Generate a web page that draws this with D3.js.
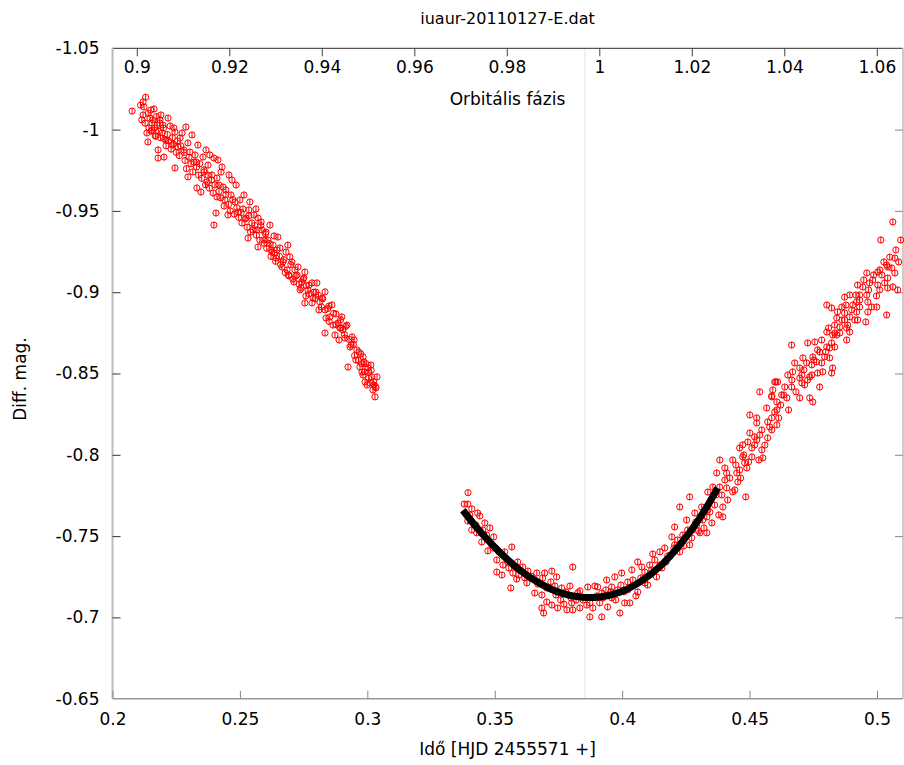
<!DOCTYPE html>
<html><head><meta charset="utf-8">
<script src="https://cdn.jsdelivr.net/npm/d3@7"></script>
<style>body{margin:0;background:#fff} svg{display:block} text{font-family:"DejaVu Sans",sans-serif;fill:#000}</style>
</head><body><svg id="c" width="904" height="765"></svg>
<script>
const title = "iuaur-20110127-E.dat";
const xLabel = "Idő [HJD 2455571 +]";
const yLabel = "Diff. mag.";
const phaseLabel = "Orbitális fázis";
const xTicks = [0.2, 0.25, 0.3, 0.35, 0.4, 0.45, 0.5];
const yTicks = [-1.05, -1, -0.95, -0.9, -0.85, -0.8, -0.75, -0.7, -0.65];
const phaseTicks = [0.9, 0.92, 0.94, 0.96, 0.98, 1, 1.02, 1.04, 1.06];
const minimumTime = [0.3854];
const magErr = 0.0019;

// first observed branch (time, diff. mag)
const branch1 = [
[0.2130,-1.0199],[0.2120,-1.0170],[0.2077,-1.0114],[0.2124,-1.0139],[0.2163,-1.0127],[0.2190,-1.0090],[0.2120,-1.0090],[0.2147,-1.0071],[0.2155,-1.0041],[0.2175,-1.0028],
[0.2198,-1.0028],[0.2135,-0.9979],[0.2139,-0.9924],[0.2179,-0.9875],[0.2179,-0.9825],[0.2202,-0.9831],[0.2226,-1.0022],[0.2245,-0.9985],[0.2273,-0.9979],[0.2257,-0.9893],
[0.2245,-0.9764],[0.2296,-0.9918],[0.2324,-0.9844],[0.2355,-0.9831],[0.2382,-0.9844],[0.2414,-0.9813],[0.2430,-0.9770],[0.2296,-0.9709],[0.2331,-0.9641],[0.2347,-0.9616],
[0.2371,-0.9678],[0.2410,-0.9702],[0.2469,-0.9690],[0.2434,-0.9647],[0.2410,-0.9586],[0.2441,-0.9567],[0.2481,-0.9555],[0.2500,-0.9567],[0.2539,-0.9555],[0.2512,-0.9512],
[0.2563,-0.9512],[0.2406,-0.9487],[0.2398,-0.9413],[0.2453,-0.9475],[0.2508,-0.9426],[0.2547,-0.9426],[0.2571,-0.9456],[0.2551,-0.9383],[0.2586,-0.9383],[0.2618,-0.9413],
[0.2532,-0.9333],[0.2571,-0.9278],[0.2610,-0.9321],[0.2630,-0.9290],[0.2649,-0.9339],[0.2626,-0.9247],[0.2645,-0.9260],[0.2688,-0.9290],[0.2696,-0.9217],[0.2665,-0.9155],
[0.2685,-0.9137],[0.2716,-0.9137],[0.2728,-0.9155],[0.2755,-0.9124],[0.2743,-0.9063],[0.2783,-0.9057],[0.2802,-0.9057],[0.2736,-0.9014],[0.2767,-0.9014],[0.2834,-0.9002],
[0.2755,-0.8934],[0.2783,-0.8934],[0.2814,-0.8940],[0.2834,-0.8891],[0.2861,-0.8922],[0.2900,-0.8848],[0.2853,-0.8848],[0.2885,-0.8811],[0.2904,-0.8768],[0.2940,-0.8725],
[0.2834,-0.8749],[0.2873,-0.8737],[0.2932,-0.8663],[0.2959,-0.8645],[0.2983,-0.8602],[0.2924,-0.8540],[0.2971,-0.8540],[0.3002,-0.8534],[0.2983,-0.8491],[0.3018,-0.8479],
[0.2991,-0.8448],[0.3038,-0.8479],[0.3010,-0.8442],[0.3022,-0.8399],[0.3030,-0.8356],
[0.2110,-1.0150],[0.2115,-1.0060],[0.2128,-1.0040],[0.2140,-1.0100],[0.2143,-1.0010],[0.2150,-1.0120],[0.2152,-0.9990],[0.2158,-1.0060],[0.2165,-1.0010],[0.2168,-0.9960],
[0.2172,-1.0080],[0.2180,-0.9990],[0.2185,-1.0040],[0.2188,-0.9950],[0.2195,-0.9980],[0.2200,-1.0010],[0.2205,-0.9940],[0.2210,-0.9900],[0.2215,-0.9970],[0.2220,-0.9930],
[0.2230,-0.9880],[0.2235,-0.9950],[0.2240,-0.9910],[0.2250,-0.9860],[0.2255,-0.9930],[0.2262,-0.9840],[0.2268,-0.9900],[0.2280,-0.9860],[0.2285,-0.9810],[0.2290,-0.9760],
[0.2300,-0.9830],[0.2308,-0.9790],[0.2315,-0.9740],[0.2320,-0.9800],[0.2330,-0.9770],[0.2338,-0.9720],[0.2342,-0.9790],[0.2350,-0.9700],[0.2360,-0.9740],[0.2365,-0.9660],
[0.2375,-0.9720],[0.2380,-0.9640],[0.2388,-0.9690],[0.2395,-0.9610],[0.2402,-0.9660],[0.2418,-0.9620],[0.2425,-0.9580],[0.2438,-0.9530],[0.2445,-0.9600],[0.2455,-0.9540],
[0.2462,-0.9500],[0.2472,-0.9570],[0.2478,-0.9480],[0.2488,-0.9520],[0.2495,-0.9460],[0.2505,-0.9490],[0.2520,-0.9450],[0.2528,-0.9400],[0.2535,-0.9470],[0.2542,-0.9370],
[0.2558,-0.9410],[0.2565,-0.9350],[0.2578,-0.9320],[0.2582,-0.9410],[0.2595,-0.9300],[0.2600,-0.9360],[0.2605,-0.9270],[0.2615,-0.9300],[0.2622,-0.9220],[0.2635,-0.9240],
[0.2640,-0.9190],[0.2655,-0.9220],[0.2660,-0.9170],[0.2672,-0.9200],[0.2678,-0.9120],[0.2692,-0.9100],[0.2700,-0.9170],[0.2708,-0.9080],[0.2720,-0.9100],[0.2732,-0.9050],
[0.2748,-0.9080],[0.2760,-0.9040],[0.2772,-0.8990],[0.2790,-0.9000],[0.2795,-0.8960],[0.2808,-0.8980],[0.2820,-0.8910],[0.2825,-0.8960],[0.2845,-0.8900],[0.2850,-0.8820],
[0.2868,-0.8870],[0.2878,-0.8800],[0.2892,-0.8780],[0.2895,-0.8830],[0.2910,-0.8740],[0.2915,-0.8790],[0.2928,-0.8710],[0.2945,-0.8680],[0.2950,-0.8610],[0.2965,-0.8580],
[0.2975,-0.8620],[0.2978,-0.8560],[0.2990,-0.8510],[0.2995,-0.8560],[0.3005,-0.8470],[0.3015,-0.8520],[0.3025,-0.8450],[0.3032,-0.8420],
[0.2155,-0.9998],[0.2171,-0.9961],[0.2186,-1.0059],[0.2210,-0.9936],[0.2218,-1.0071],[0.2233,-0.9905],[0.2241,-1.0010],[0.2265,-0.9948],[0.2280,-0.9875],[0.2288,-1.0016],
[0.2304,-0.9862],[0.2312,-0.9967],[0.2328,-0.9801],[0.2335,-0.9905],[0.2359,-0.9752],[0.2367,-0.9875],[0.2375,-0.9782],[0.2390,-0.9721],[0.2398,-0.9825],[0.2418,-0.9659],
[0.2426,-0.9739],[0.2445,-0.9629],[0.2457,-0.9721],[0.2465,-0.9598],[0.2485,-0.9659],[0.2492,-0.9493],[0.2516,-0.9598],[0.2524,-0.9456],[0.2535,-0.9506],[0.2555,-0.9475],
[0.2567,-0.9383],[0.2583,-0.9432],[0.2594,-0.9321],[0.2602,-0.9370],[0.2622,-0.9260],[0.2634,-0.9346],[0.2641,-0.9210],[0.2657,-0.9272],[0.2669,-0.9186],[0.2681,-0.9247],
[0.2692,-0.9106],[0.2704,-0.9186],[0.2712,-0.9063],[0.2724,-0.9106],[0.2740,-0.9026],[0.2751,-0.9087],[0.2759,-0.8977],[0.2771,-0.9044],[0.2787,-0.8964],[0.2798,-0.9001],
[0.2810,-0.8891],[0.2822,-0.8964],[0.2838,-0.8841],[0.2849,-0.8915],[0.2865,-0.8798],[0.2877,-0.8866],[0.2889,-0.8706],[0.2896,-0.8780],[0.2912,-0.8718],[0.2920,-0.8798],
[0.2936,-0.8675],[0.2948,-0.8706],[0.2955,-0.8583],[0.2967,-0.8632],[0.2979,-0.8509],[0.2987,-0.8571],[0.2999,-0.8429],[0.3006,-0.8509],[0.3014,-0.8552],[0.3026,-0.8429],
[0.3034,-0.8411]
];

// second observed branch (time, diff. mag)
const branch2 = [
[0.3395,-0.7767],[0.3380,-0.7697],[0.3394,-0.7697],[0.3410,-0.7667],[0.3433,-0.7642],[0.3441,-0.7624],[0.3394,-0.7593],[0.3461,-0.7581],[0.3410,-0.7538],[0.3429,-0.7520],
[0.3481,-0.7550],[0.3496,-0.7495],[0.3449,-0.7464],[0.3488,-0.7446],[0.3473,-0.7409],[0.3539,-0.7403],[0.3567,-0.7433],[0.3508,-0.7353],[0.3551,-0.7341],[0.3590,-0.7341],
[0.3610,-0.7310],[0.3508,-0.7279],[0.3528,-0.7261],[0.3571,-0.7273],[0.3630,-0.7285],[0.3665,-0.7273],[0.3696,-0.7273],[0.3724,-0.7285],[0.3806,-0.7310],[0.3586,-0.7236],
[0.3626,-0.7212],[0.3657,-0.7230],[0.3688,-0.7242],[0.3743,-0.7249],[0.3563,-0.7181],[0.3657,-0.7150],[0.3685,-0.7138],[0.3736,-0.7193],[0.3763,-0.7181],[0.3795,-0.7193],
[0.3834,-0.7163],[0.3704,-0.7095],[0.3724,-0.7076],[0.3771,-0.7082],[0.3802,-0.7089],[0.3685,-0.7058],[0.3692,-0.7027],[0.3747,-0.7058],[0.3783,-0.7046],[0.3806,-0.7046],
[0.3834,-0.7058],[0.3861,-0.7076],[0.3865,-0.7187],[0.3893,-0.7193],[0.3873,-0.7003],[0.3920,-0.7003],[0.3885,-0.7058],[0.3912,-0.7089],[0.3943,-0.7064],[0.3959,-0.7120],
[0.3904,-0.7187],[0.3939,-0.7230],[0.3971,-0.7249],[0.3998,-0.7273],[0.4022,-0.7218],[0.4061,-0.7341],[0.4038,-0.7292],[0.4077,-0.7310],[0.4108,-0.7322],[0.4120,-0.7390],
[0.3991,-0.7027],[0.4010,-0.7089],[0.4030,-0.7089],[0.4061,-0.7156],[0.4100,-0.7199],[0.3959,-0.7187],[0.3983,-0.7169],[0.3920,-0.7150],[0.4022,-0.7169],
[0.4128,-0.7353],[0.4148,-0.7403],[0.4167,-0.7427],[0.4179,-0.7378],[0.4206,-0.7446],[0.4218,-0.7476],[0.4245,-0.7489],[0.4265,-0.7446],[0.4292,-0.7568],[0.4316,-0.7599],
[0.4344,-0.7648],[0.4363,-0.7691],[0.4148,-0.7322],[0.4089,-0.7279],[0.4108,-0.7261],
[0.4603,-0.8448],[0.4540,-0.8387],[0.4587,-0.8362],[0.4607,-0.8325],[0.4567,-0.8288],[0.4607,-0.8276],[0.4587,-0.8227],[0.4501,-0.8245],[0.4528,-0.8227],[0.4528,-0.8196],
[0.4607,-0.8184],[0.4579,-0.8171],[0.4501,-0.8134],[0.4520,-0.8110],[0.4540,-0.8122],[0.4571,-0.8104],[0.4473,-0.8061],[0.4493,-0.8079],[0.4461,-0.8042],[0.4520,-0.8061],
[0.4548,-0.8030],[0.4552,-0.7981],[0.4509,-0.7987],[0.4473,-0.7987],[0.4481,-0.7950],[0.4383,-0.7968],[0.4403,-0.7919],[0.4434,-0.7968],[0.4461,-0.7907],[0.4489,-0.7919],
[0.4371,-0.7888],[0.4410,-0.7888],[0.4450,-0.7888],[0.4454,-0.7833],[0.4383,-0.7802],[0.4410,-0.7796],[0.4442,-0.7784],[0.4485,-0.7741],[0.4265,-0.7741],[0.4336,-0.7771],
[0.4356,-0.7802],[0.4414,-0.7722],[0.4395,-0.7679],[0.4226,-0.7679],[0.4285,-0.7642],[0.4312,-0.7679],[0.4332,-0.7618],[0.4253,-0.7599],[0.4352,-0.7581],[0.4395,-0.7618],
[0.4277,-0.7538],[0.4305,-0.7520],[0.4332,-0.7520],[0.4206,-0.7556],[0.4195,-0.7495],[0.4238,-0.7507],
[0.5062,-0.9432],[0.5015,-0.9321],[0.5050,-0.9216],[0.5070,-0.9210],[0.5038,-0.9167],[0.5042,-0.9155],[0.5070,-0.9118],[0.4960,-0.9118],[0.5003,-0.9124],[0.5019,-0.9106],
[0.4983,-0.9075],[0.4971,-0.9057],[0.4924,-0.9044],[0.4944,-0.9032],[0.5003,-0.9044],[0.5030,-0.9057],[0.5042,-0.9026],[0.5062,-0.9032],[0.5011,-0.9014],[0.4893,-0.8983],
[0.4873,-0.8970],[0.4932,-0.8983],[0.4960,-0.8983],[0.4920,-0.8940],[0.4964,-0.8940],[0.4905,-0.8921],[0.4932,-0.8909],[0.4862,-0.8909],[0.4979,-0.8909],[0.4803,-0.8921],
[0.4822,-0.8903],[0.4999,-0.8909],[0.4920,-0.8878],[0.5038,-0.8860],[0.4964,-0.8878],[0.4893,-0.8848],[0.4913,-0.8829],[0.4873,-0.8872],[0.4873,-0.8829],[0.4842,-0.8841],
[0.4956,-0.8817],[0.4834,-0.8798],[0.4885,-0.8798],[0.4924,-0.8829],[0.4854,-0.8786],[0.4881,-0.8780],[0.4803,-0.8755],[0.4854,-0.8749],[0.4834,-0.8749],[0.4893,-0.8755],
[0.4842,-0.8737],[0.4881,-0.8706],[0.4822,-0.8688],[0.4756,-0.8694],[0.4728,-0.8688],[0.4665,-0.8675],[0.4803,-0.8663],[0.4814,-0.8657],[0.4775,-0.8632],[0.4834,-0.8663],
[0.4795,-0.8602],[0.4748,-0.8602],[0.4763,-0.8571],[0.4783,-0.8565],[0.4814,-0.8596],[0.4709,-0.8596],[0.4724,-0.8565],[0.4677,-0.8565],[0.4744,-0.8553],[0.4697,-0.8534],
[0.4826,-0.8534],[0.4669,-0.8510],[0.4787,-0.8510],[0.4744,-0.8491],[0.4767,-0.8503],[0.4705,-0.8491],[0.4650,-0.8491],[0.4736,-0.8479],[0.4822,-0.8503],[0.4775,-0.8417],
[0.4705,-0.8442],[0.4665,-0.8417],[0.4638,-0.8417],[0.4599,-0.8448],[0.4610,-0.8448],[0.4716,-0.8430],[0.4591,-0.8399],[0.4587,-0.8356],[0.4626,-0.8368],[0.4697,-0.8350],
[0.4736,-0.8350],[0.4646,-0.8350],[0.4748,-0.8325],
[0.3402,-0.7630],[0.3426,-0.7568],[0.3453,-0.7538],[0.3468,-0.7507],[0.3493,-0.7427],[0.3516,-0.7403],[0.3532,-0.7322],[0.3555,-0.7304],[0.3575,-0.7316],[0.3594,-0.7261],
[0.3618,-0.7243],[0.3642,-0.7255],[0.3669,-0.7205],[0.3704,-0.7181],[0.3720,-0.7218],[0.3740,-0.7138],[0.3759,-0.7107],[0.3779,-0.7157],[0.3799,-0.7120],[0.3819,-0.7107],
[0.3826,-0.7151],[0.3846,-0.7107],[0.3873,-0.7089],[0.3900,-0.7132],[0.3924,-0.7120],[0.3936,-0.7169],[0.3955,-0.7157],[0.3975,-0.7107],[0.3995,-0.7199],[0.4007,-0.7157],
[0.4042,-0.7230],[0.4054,-0.7132],[0.4073,-0.7243],[0.4089,-0.7212],[0.4116,-0.7292],[0.4135,-0.7249],[0.4156,-0.7304],[0.4172,-0.7341],[0.4191,-0.7384],[0.4203,-0.7427],
[0.4226,-0.7403],[0.4242,-0.7439],[0.4257,-0.7538],[0.4273,-0.7489],[0.4289,-0.7587],[0.4300,-0.7532],[0.4321,-0.7550],[0.4336,-0.7661],[0.4348,-0.7722],[0.4368,-0.7753],
[0.4379,-0.7630],[0.4391,-0.7753],[0.4403,-0.7845],[0.4422,-0.7857],[0.4434,-0.7772],[0.4446,-0.7937],[0.4465,-0.7857],[0.4477,-0.7999],[0.4496,-0.7956],[0.4509,-0.8042],
[0.4528,-0.8091],[0.4536,-0.7968],[0.4548,-0.8153],[0.4560,-0.8060],[0.4571,-0.8202],[0.4587,-0.8153],[0.4599,-0.8264],[0.4614,-0.8227],[0.4622,-0.8306],[0.4634,-0.8368],
[0.4653,-0.8276],[0.4666,-0.8460],[0.4682,-0.8387],[0.4697,-0.8472],[0.4713,-0.8522],[0.4728,-0.8460],[0.4752,-0.8583],[0.4767,-0.8645],[0.4783,-0.8706],[0.4799,-0.8633],
[0.4810,-0.8780],[0.4826,-0.8737],[0.4845,-0.8879],[0.4862,-0.8829],[0.4878,-0.8921],[0.4901,-0.8891],[0.4917,-0.8983],[0.4932,-0.8952],[0.4948,-0.9075],[0.4967,-0.9014],
[0.4987,-0.9106],[0.4998,-0.8977],[0.5011,-0.9137],[0.5027,-0.9186],[0.5042,-0.9087],[0.5058,-0.9149],[0.5074,-0.9260],[0.5085,-0.9186],[0.5093,-0.9321],[0.5081,-0.9014]
];

// fitted minimum (time, diff. mag)
const fitCurve = [
[0.3375,-0.7659],[0.3441,-0.7531],[0.3520,-0.7400],[0.3598,-0.7292],[0.3677,-0.7209],[0.3755,-0.7152],[0.3834,-0.7126],
[0.3912,-0.7126],[0.3991,-0.7155],[0.4069,-0.7217],[0.4148,-0.7313],[0.4226,-0.7445],[0.4305,-0.7612],[0.4375,-0.7796]
];

const L = 112.5, R = 903, T = 48.3, B = 698.7;
const svg = d3.select("#c");
const x = d3.scaleLinear().domain([0.2, 0.5102]).range([L, R]);
const y = d3.scaleLinear().domain([-1.05, -0.65]).range([T, B]);
const xp = d3.scaleLinear().domain([0.9, 1.06]).range([136.8, 876.8]);
const fmt = d => String(d);
const FS = 17;

// vertical minimum line
svg.selectAll(".vmin").data(minimumTime).join("line")
  .attr("x1", d => x(d)).attr("x2", d => x(d)).attr("y1", T).attr("y2", B)
  .attr("stroke", "#e4e4e4").attr("stroke-width", 1);

// frame
svg.append("line").attr("x1", L).attr("x2", R).attr("y1", T).attr("y2", T).attr("stroke", "#555").attr("stroke-width", 1.2);
svg.append("line").attr("x1", L).attr("x2", R).attr("y1", B).attr("y2", B).attr("stroke", "#999").attr("stroke-width", 1.5);
svg.append("line").attr("x1", L).attr("x2", L).attr("y1", T).attr("y2", B).attr("stroke", "#bbb").attr("stroke-width", 2);
svg.append("line").attr("x1", R).attr("x2", R).attr("y1", T).attr("y2", B).attr("stroke", "#bbb").attr("stroke-width", 1.5);

function styleAxis(g, col) {
  g.select(".domain").remove();
  g.selectAll(".tick line").attr("stroke", col);
  g.selectAll(".tick text").attr("font-size", FS).attr("font-family", "DejaVu Sans").attr("fill", "#000");
}

const gb = svg.append("g").attr("transform", `translate(0,${B})`)
  .call(d3.axisBottom(x).tickValues(xTicks).tickFormat(fmt).tickSize(-8).tickPadding(14));
styleAxis(gb, "#888");

const gl = svg.append("g").attr("transform", `translate(${L},0)`)
  .call(d3.axisLeft(y).tickValues(yTicks).tickFormat(fmt).tickSize(-8).tickPadding(13));
styleAxis(gl, "#333");
gl.selectAll(".tick").filter(d => d === -1.05 || d === -0.65).select("line").remove();

const gr = svg.append("g").attr("transform", `translate(${R},0)`)
  .call(d3.axisRight(y).tickValues(yTicks.slice(1, -1)).tickFormat("").tickSize(-8));
styleAxis(gr, "#888");

const gt = svg.append("g").attr("transform", `translate(0,${T})`)
  .call(d3.axisTop(xp).tickValues(phaseTicks).tickFormat(fmt).tickSize(-8));
styleAxis(gt, "#444");
gt.selectAll(".tick text").attr("y", 25.2).attr("dy", "0");

// labels
svg.append("text").attr("x", 507.5).attr("y", 24).attr("text-anchor", "middle").attr("font-size", 16).text(title);
svg.append("text").attr("x", 507.5).attr("y", 105).attr("text-anchor", "middle").attr("font-size", FS).text(phaseLabel);
svg.append("text").attr("x", 507.5).attr("y", 755).attr("text-anchor", "middle").attr("font-size", FS).text(xLabel);
svg.append("text").attr("transform", "translate(26,379) rotate(-90)").attr("text-anchor", "middle").attr("font-size", FS).text(yLabel);

// points
const pts = branch1.concat(branch2);
const pg = svg.append("g").attr("fill", "none").attr("stroke", "#ff0000").attr("stroke-width", 1);
pg.selectAll("circle").data(pts).join("circle")
  .attr("cx", d => x(d[0])).attr("cy", d => y(d[1])).attr("r", 3.1);
pg.selectAll("line").data(pts).join("line")
  .attr("x1", d => x(d[0])).attr("x2", d => x(d[0]))
  .attr("y1", d => y(d[1] - magErr)).attr("y2", d => y(d[1] + magErr));

// fit
svg.append("path").datum(fitCurve)
  .attr("d", d3.line().x(d => x(d[0])).y(d => y(d[1])).curve(d3.curveCatmullRom))
  .attr("fill", "none").attr("stroke", "#000").attr("stroke-width", 7);
</script></body></html>
